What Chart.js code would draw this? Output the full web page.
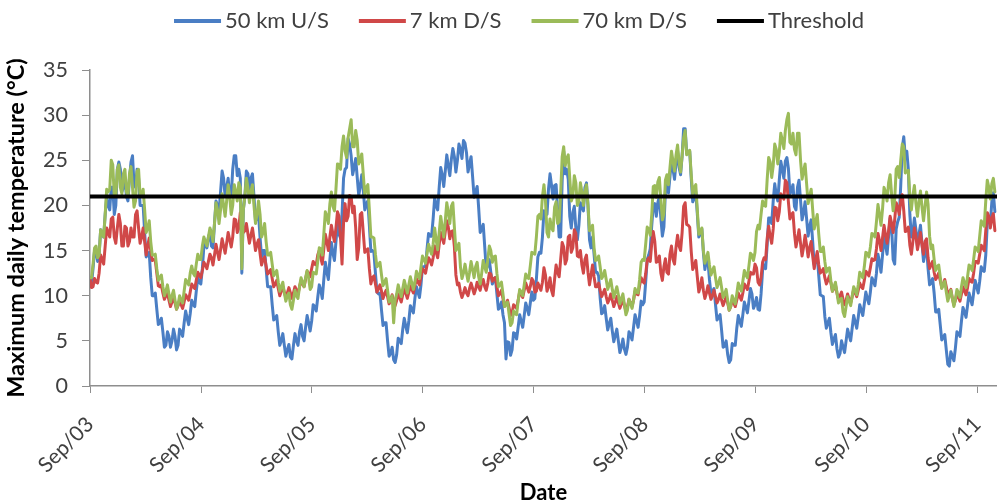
<!DOCTYPE html>
<html>
<head>
<meta charset="utf-8">
<title>Maximum daily temperature</title>
<script src="https://cdn.jsdelivr.net/npm/chart.js@4.4.1/dist/chart.umd.min.js"></script>
<style>
  html, body { margin: 0; padding: 0; background: #ffffff; }
  #wrap { width: 997px; height: 504px; position: relative; }
</style>
</head>
<body>
<div id="wrap"><canvas id="chart" width="997" height="504"></canvas></div>
<script>
// Daily-maximum water temperature at three sites, sampled every 5 days from 1 Sep 2003.
const seriesStart = '2003-09-01';
const stepDays = 5;
const axisEnd = '2011-11-05';

const seriesLabels = ['50 km U/S', '7 km D/S', '70 km D/S', 'Threshold'];

// 50 km upstream
const upstream50 = [
  11.5, 11.3, 13, 15, 15, 13.8, 14.5, 17.3, 17, 16.5, 19, 21, 20, 19.5, 22, 22, 19, 20, 24, 24.8,
  24, 21.5, 22, 23, 21, 20.5, 23, 24.8, 25.5, 22.3, 22, 24, 23, 20, 20, 20, 17, 14.3, 14.5, 14.8,
  12, 10, 10, 10.3, 8.5, 6.8, 7, 7.5, 6, 4.3, 4.5, 6, 5.5, 4.3, 5, 6.3, 5.5, 4, 4.5, 6.3,
  6, 5.5, 7, 8.3, 7.5, 6.8, 8, 9.5, 9, 8.8, 10.5, 12, 11.5, 11.3, 13, 15.5, 16, 15.3, 16.5, 17,
  15.5, 15.3, 18, 20.5, 20, 19.3, 21.5, 23.8, 23, 21, 22, 23, 21, 21, 24, 25.5, 25.5, 23.3, 24, 23,
  12.5, 19.5, 21, 23.8, 23.5, 21.8, 23, 23.5, 21, 18.3, 18.5, 19, 16.5, 14.3, 15, 15, 13, 11, 11, 11,
  9, 7.3, 7.5, 7.8, 6, 4.5, 5, 5.8, 4.5, 3.3, 4, 4.6, 3.2, 3, 4.5, 5.8, 5, 4.5, 6, 6.8,
  5.5, 5, 6.5, 7.8, 7, 6.1,
  7.2, 9, 8.8, 8.3, 9.8, 11.2, 10.6, 9.7, 11.8, 13.7, 12.6, 11.8, 14, 15.9, 14.7, 13.9, 16, 17.9, 16.8, 16.4,
  19, 23, 24, 24.2, 27.4, 26.8, 25.5, 23.4, 24.2, 25.2, 23.1, 21.1, 22.1, 23.4, 21.7, 19.5, 20.2, 20.5, 17.8, 14.9,
  15, 14.8, 12.5, 10.4, 10.2, 10.3, 8.4, 6.7, 7, 7, 5, 3.3, 3.6, 4.3, 2.9, 2.6, 3.5, 5.3, 5, 4.7,
  6.3, 7.5, 6.6, 5.9, 7.2, 8.9, 8.5, 8.1, 9.7, 11, 10.4, 9.8, 11.2, 13.2, 13.2, 13.2, 15.2, 16.9, 16.6, 16.6,
  18.5, 20.8, 20, 19.5, 22, 24.2, 23.4, 22.1, 23.8, 25.6, 24.4, 23.3, 25.1, 26.3, 25.4, 23.7, 25, 26.8, 26.2, 25.2,
  27.2, 26.9, 25.8, 23.7, 24.6, 25.4, 23.2, 20.9, 21.5, 22.1, 19.7, 17, 17.4, 17.9, 15.4, 12.9, 13.4, 14, 12.6, 11.3,
  11.9, 12, 10.2, 8.5, 8.7, 9.3, 7.9, 7, 3, 4.9, 4.8, 3.4, 4, 5.9, 5.8, 5.2, 6.5, 7.9, 7.2, 6.5,
  7.8, 9.2, 8.6, 7.9, 9.2, 10.4,
  9.5, 9.7, 11.8, 14.3, 14.8, 14.7, 16.5, 19.4, 19.2, 19, 21.8, 23.5, 22.2, 20.7, 22.2, 22.3, 19.4, 16.5, 16.5, 22.8,
  26, 23.5, 24, 22.9, 18.8, 17.5, 19.2, 19.9, 17.5, 16.2, 17.8, 20.3, 19.8, 19.4, 22, 22.5, 20, 16.2, 15.3, 16.5,
  14.6, 12.6, 12.6, 12.2, 9.8, 8, 8.2, 8.9, 7.5, 6.2, 6.9, 7.5, 6.1, 4.9, 5.6, 6.3, 5, 3.7, 4.3, 5.2,
  4.1, 3.5, 4.3, 6, 5.7, 5.1, 6.5, 7.9, 7.2, 6.5, 7.8, 9.4, 9, 9.3, 11.5, 14, 14.5, 15.2, 17.8, 20,
  20.2, 18.8, 20.3, 21, 18.6, 16.6, 17.6, 21.6, 22.5, 21.4, 23.2, 25.1, 24, 22.9, 24.8, 26, 24.2, 23.4, 25.5, 28.5,
  28.5, 25.8, 26, 26, 23, 20.4, 20.8, 21.5, 19.1, 16.5, 16.9, 17.4, 14.8, 12.9, 14, 13.9, 11.8, 10.2, 10.5, 10.8,
  9, 7.3, 7.6, 7.9, 6.2, 4.3, 4.4, 5, 3.5, 2.6, 2.9, 4.7, 4.5, 4.5, 6.4, 7.8, 7.2, 6.6, 7.9, 9.3,
  8.7, 8.1, 9.4, 10.8, 10.2, 8.6, 9, 9.8,
  8.5, 8.4, 10.2, 12.8, 13.4, 13, 15.6, 18.6, 18.6, 18, 20.5, 22.4, 21.2, 20.5, 22.8, 24.9, 24, 23, 24.9, 25.3,
  24.1, 21.3, 21.6, 22.3, 19.9, 19.5, 22, 22.8, 20.6, 18.4, 19.2, 20.4, 18.5, 16.6, 17.7, 18.4, 16, 13.4, 13.8, 14.5,
  12.2, 10.1, 10, 9.9, 7.7, 6.4, 7, 7.5, 5.9, 4.6, 5.2, 5.7, 4.1, 3.2, 3.6, 5, 4.3, 3.7, 5, 6.3,
  5.6, 5, 6.4, 7.8, 7.1, 6.4, 7.6, 9, 8.4, 7.8, 9.1, 10.4, 9.7, 9.1, 10.4, 12, 11.6, 11.1, 12.5, 14.6,
  13.7, 12.6, 14.5, 16.6, 15.6, 14.6, 16.6, 18.6, 17.5, 14, 13.5, 17.4, 18.2, 18.7, 22.2, 26.4, 27.6, 25.3, 26, 24,
  19, 16.5, 17, 18.6, 17.3, 15.5, 16.8, 17.8, 15.8, 13.8, 14.8, 15.4, 13, 11.2, 11.4, 11.9, 10.3, 8.2, 8.2, 8.5,
  6.8, 5.1, 5.4, 5.7, 4, 2.4, 2.2, 3.8, 3.3, 2.8, 4.2, 6, 5.8, 5.5, 7.2, 8.7, 8.2, 7.6, 8.9, 10.3,
  9.6, 9, 10.3, 11.7, 11, 10.3, 11.6, 13.2, 12.8, 12.7, 14.5, 18, 18.6, 18, 20.4, 21.4, 19.3
];

// 7 km downstream
const downstream7 = [
  12, 10.9, 11, 11.9, 11.5, 11.4, 12.5, 14.5, 14, 13.5, 15.5, 17.5, 17, 16.5, 18.5, 18.7, 16.5, 15.8, 17.5, 19,
  18, 15.5, 15.5, 17.7, 17.5, 15.5, 16, 17.5, 16.5, 16.5, 19, 19.4, 17.5, 15.8, 16.5, 17.5, 16, 14.5, 15.5, 16.4,
  15, 13.9, 14, 13.9, 12.5, 11.1, 11, 11.2, 10.3, 9.6, 10, 10.3, 9.5, 8.8, 9.3, 9.9, 9.2, 8.5, 8.9, 9.5,
  9, 8.6, 9.3, 10.1, 9.8, 9.5, 10.4, 11.3, 11, 10.8, 11.7, 12.6, 12.3, 12, 12.8, 13.7, 13.4, 13, 13.8, 14.6,
  14.2, 13.4, 14.5, 15.7, 14.8, 14, 15.1, 16.3, 15.5, 14.7, 15.8, 17, 16.2, 15.4, 16.5, 18.5, 18.4, 17, 17.5, 19.2,
  18.8, 17, 17.2, 18, 16.9, 15.8, 16.7, 17.5, 16.3, 15, 15.7, 16.2, 14.7, 13.4, 14, 14.3, 13.3, 12.4, 12.6, 12.9,
  11.9, 11, 11.3, 11.7, 10.8, 10, 10.5, 11, 10.4, 9.8, 10.3, 10.9, 10.3, 9.7, 10.3, 11, 10.6, 10.2, 11, 11.7,
  11.3, 11, 11.8, 12.7, 12.5, 12.1,
  13, 13.8, 13.5, 13.4, 14.5, 15, 14.2, 13.5, 15.2, 16.8, 16, 15, 16.5, 17.8, 16.8, 16, 17.5, 19.3, 18.8, 16.5,
  13.5, 18, 20.2, 18.3, 18.8, 21.1, 21, 19.2, 19.9, 17.5, 14, 15.3, 19, 19.2, 17, 14.8, 15, 15.2, 13, 11.3,
  12, 12.2, 11.3, 10.4, 10.8, 11.2, 10.5, 9.7, 10.2, 10.6, 9.9, 9.1, 9.5, 10.1, 9.5, 8.9, 9.5, 10.2, 9.8, 9.3,
  10.1, 10.8, 10.3, 9.7, 10.4, 11.1, 10.7, 10.3, 11.1, 11.9, 11.5, 11.2, 12.1, 13, 12.8, 12.5, 13.4, 14.2, 13.9, 13.4,
  14.2, 15.5, 14.8, 14.2, 15.7, 17, 16.4, 15.8, 17.1, 18.3, 17.6, 16.3, 17.1, 17.2, 15.4, 12.3, 11.2, 11.4, 10.4, 9.8,
  10.3, 10.9, 10.3, 10, 10.8, 11.4, 10.8, 10.2, 10.7, 11.5, 11, 10.6, 11.4, 11.8, 11, 10.6, 11.4, 12.5, 12.4, 11.6,
  11.9, 12, 11, 10, 10.2, 10.6, 9.7, 8.8, 9.1, 9.5, 8.7, 7.8, 8.1, 9, 8.8, 8.6, 9.5, 10.4, 10.2, 9.8,
  10.6, 11.4, 10.9, 10.4, 11, 11.9,
  11.6, 10.4, 10.5, 11.4, 11, 10.6, 11.5, 13.1, 12.3, 10.5, 11, 12, 10.6, 10, 11.8, 13.4, 12.6, 12.1, 14, 15.9,
  15.4, 13.5, 14, 16.5, 16.7, 14.8, 15.3, 17.3, 16.9, 14.4, 14.3, 15, 13.4, 12.5, 14, 14.5, 12.6, 11.2, 12.3, 13.4,
  12.1, 11, 11, 11.4, 10.6, 9.9, 10.3, 10.7, 9.9, 9.2, 9.6, 10.2, 9.5, 8.8, 9.3, 9.9, 9.2, 8.6, 9.1, 9.6,
  8.9, 8.3, 8.8, 9.6, 9.2, 8.8, 9.5, 10.5, 10.2, 10.1, 11.1, 12, 11.6, 11.4, 12.4, 13.9, 14.2, 13.8, 15.8, 17.1,
  16, 13.7, 13.8, 14.4, 12.5, 11.7, 13.2, 14.1, 12.6, 12.4, 14.6, 15.5, 14, 13.5, 15.4, 16.7, 15.5, 15, 17, 19.9,
  20.3, 17.9, 17.8, 17.6, 14.9, 12.9, 13.3, 13.9, 12.1, 10.4, 11, 12, 10.6, 9.7, 10.3, 11.1, 10.3, 9.6, 10, 10.6,
  9.9, 9.2, 9.6, 10.2, 9.5, 8.9, 9.4, 9.9, 9.2, 8.4, 8.8, 9.6, 9.2, 8.8, 9.5, 10.3, 9.9, 9.5, 10.3, 11.3,
  11, 10.7, 11.6, 12.6, 12.4, 12.4, 13.5, 13.1,
  11.5, 11.2, 12, 13.7, 14.2, 14, 16.3, 17.7, 16.6, 15.8, 17.4, 19.8, 19.7, 18.3, 19.3, 21.3, 21, 20.7, 22.8, 22.5,
  20.4, 18.5, 19, 19.2, 16.9, 15.4, 16.3, 17.3, 15.8, 14.4, 15.4, 16.7, 15.6, 14.3, 15.3, 16, 14.4, 13, 14, 14.9,
  13.4, 12.5, 12.7, 13, 12, 11.3, 11.7, 12.2, 11.4, 10.5, 10.8, 11.2, 10.3, 9.6, 10, 10.4, 9.6, 9, 9.5, 10.2,
  9.6, 9.2, 9.9, 10.7, 10.3, 9.9, 10.6, 11.4, 11, 10.8, 11.7, 12.7, 12.5, 12.2, 13.1, 14.1, 13.9, 14, 15.2, 16.9,
  16.1, 15, 16.4, 17.8, 16.7, 15.8, 17.2, 18.8, 18, 17, 18.4, 20.3, 19.8, 19, 20.5, 21.2, 19.4, 17.1, 17.2, 17.6,
  15.6, 14.6, 16, 17.5, 16.6, 15.1, 16, 17, 15.6, 14.6, 16, 16.3, 14.2, 13, 13.4, 13.8, 12.6, 11.8, 12.1, 12.5,
  11.7, 10.9, 11.3, 11.8, 11, 10.1, 10.4, 10.7, 9.7, 9, 9.5, 10.3, 9.8, 9.4, 10.2, 11, 10.5, 10.1, 10.9, 11.9,
  11.6, 11.5, 12.5, 13.8, 13.8, 13.6, 14.6, 15.6, 15.3, 15, 17.2, 19.2, 18.8, 17.5, 18.6, 19.1, 17.2
];

// 70 km downstream
const downstream70 = [
  12, 12, 13.5, 15.3, 15.5, 14.2, 14.5, 17.3, 17, 16.5, 19, 21.8, 21.5, 21.8, 25, 24.5, 21, 21, 24, 24.5,
  22, 21.3, 23.5, 24, 21.5, 21, 23.5, 24.3, 22, 19.8, 20.5, 23.8, 24, 21, 21, 21.8, 19.5, 17, 17.5, 18.3,
  16, 14.5, 14.5, 14.6, 13, 11.7, 12, 12.3, 11, 10, 10.5, 11.2, 10.2, 9.3, 10, 10.6, 9.5, 8.5, 9, 10,
  9.5, 9.2, 10.5, 11.8, 11.5, 11.2, 12.5, 13.3, 12.5, 12.2, 13.5, 14.6, 14, 14, 15.5, 16.5, 16, 15.5, 16.5, 17.5,
  17, 16, 18, 20.3, 19.5, 18, 19.5, 21.3, 20, 18.8, 20.5, 22.3, 21, 19, 20, 22.3, 21.5, 20.5, 22.5, 22,
  13, 19.5, 21, 23, 22, 20.3, 21.5, 22.3, 20, 18, 19, 20.5, 19, 16.5, 17, 18, 16, 14.5, 14.5, 14.8,
  13.5, 12.2, 12.5, 12.8, 11.5, 10.5, 11, 11.5, 10.3, 9.4, 10, 10.3, 9, 8.5, 9.5, 10.6, 10, 9.7, 11, 12,
  11.5, 11, 12, 12.8, 12, 10.7,
  11, 12.6, 12.5, 12.4, 13.8, 15.3, 15.2, 14.5, 16.8, 19.3, 18.8, 18, 20.2, 21.5, 19.9, 19.4, 21.8, 24.6, 24.5, 24,
  26.5, 27.7, 26, 25.3, 27.5, 28.5, 29.5, 26.5, 26.5, 28.3, 27.2, 24.6, 25, 25.7, 23.4, 21.2, 22, 22.3, 19.5, 16.5,
  16.5, 16.4, 14.6, 13.2, 13.4, 13.7, 12.3, 11.1, 11.5, 11.9, 10.6, 9.3, 9.5, 10, 7, 9.5, 10.2, 11.2, 10.5, 9.9,
  10.8, 11.7, 11, 10.3, 11.2, 12.1, 11.4, 10.7, 11.5, 12.7, 12.2, 11.9, 13.2, 14.4, 14, 13.6, 14.7, 15.7, 15.1, 14.6,
  15.7, 17.5, 16.2, 15.1, 17, 18.8, 17.6, 16.5, 18.3, 20.3, 19.2, 18, 19.9, 20.3, 17.6, 15, 15.3, 15.8, 13.2, 11.9,
  12.5, 13.5, 12.5, 11.6, 12.6, 13.8, 12.9, 12, 13.2, 13.7, 12.1, 11.3, 12.5, 13.9, 13.2, 12.6, 14, 15.5, 15, 13.7,
  14.3, 14.4, 12.5, 11, 11.2, 11.5, 10.2, 8.8, 9, 9.3, 8, 6.7, 7, 8.3, 8, 7.9, 9.4, 10.7, 10.4, 10,
  11.2, 12.4, 12, 11.9, 13.3, 14.8,
  14.7, 14.6, 16.5, 18.8, 19, 18.5, 21, 22.3, 20.5, 17, 16.5, 18.5, 17.5, 17.2, 19.8, 20.4, 18, 18.2, 21.3, 25.4,
  26.5, 24.4, 25.2, 25.6, 23, 20.5, 21, 23.3, 22.5, 20, 20.5, 22.5, 21.5, 20, 21.5, 22.3, 20, 17.2, 17.3, 17.8,
  15.3, 13.9, 14, 14.4, 13.2, 11.9, 12.2, 12.8, 11.8, 10.7, 11.2, 11.8, 10.7, 9.8, 10.4, 11, 10.1, 9.1, 9.7, 10.2,
  9, 7.9, 8.4, 9.6, 9.2, 8.6, 9.5, 10.8, 10.4, 10.3, 11.8, 13.7, 14, 13.9, 15.7, 17.6, 17.4, 16.7, 19, 22.1,
  22.2, 20.9, 22.6, 23.1, 20.6, 18.4, 19.1, 22.8, 23.4, 22.3, 24.2, 26, 24.9, 23.8, 25.6, 26.7, 24.8, 23.7, 25.5, 27.5,
  28.3, 25.6, 25.8, 26.1, 23.4, 21.2, 22, 22.3, 19.5, 16.8, 17, 17.5, 15, 13.6, 14.2, 14.8, 13.4, 12.3, 12.8, 13.2,
  12, 10.9, 11.4, 12, 10.9, 9.8, 10.2, 10.7, 9.5, 8.4, 8.8, 10, 9.5, 9.1, 10.2, 11.4, 10.9, 10.5, 11.6, 12.8,
  12.3, 12, 13.3, 14.7, 14.5, 13.9, 14.8, 17.1,
  17.8, 17.4, 19, 20.5, 20, 19.9, 22.8, 25.3, 24.8, 23.1, 24.4, 26.8, 26.2, 24.6, 25.9, 28, 27.2, 26.3, 28.3, 29.5,
  30.2, 27, 26.8, 28, 26.2, 25.6, 28, 28, 25, 22.9, 23.8, 24.6, 22.4, 20.2, 21, 21.8, 19.5, 17.4, 18.2, 19,
  16.8, 14.9, 14.9, 15.4, 13.8, 12.6, 13, 13.1, 11.6, 10.5, 11, 11.5, 10.3, 9.2, 9.6, 9.7, 8.2, 7.7, 8.8, 9.9,
  9.4, 8.9, 9.9, 11, 10.6, 10.1, 11.2, 12.6, 12.3, 12, 13.2, 14.8, 14.7, 14.3, 15.4, 16.9, 16.8, 16.5, 18.2, 20.1,
  19, 17.8, 19.6, 22, 21.5, 20.5, 22.5, 23.4, 21.2, 19.4, 20.6, 24, 24.3, 23.1, 25, 26.8, 26.5, 23.6, 23.8, 23.9,
  21, 19.5, 21.1, 22.2, 20.2, 18.8, 20.4, 21.6, 19.8, 18.3, 19.9, 21.5, 20.1, 16.6, 15.2, 15.6, 14, 12.8, 13.2, 13.4,
  12.1, 10.8, 11.2, 11.6, 10.4, 9.4, 10, 10.6, 9.7, 8.8, 9.6, 10.7, 10.3, 9.8, 11, 12, 11.4, 10.9, 12.1, 13.4,
  13.2, 12.8, 14, 15.4, 15.2, 14.9, 16.6, 18.3, 18, 17.7, 20.5, 22.8, 22, 20.7, 22.4, 23, 21.5
];

const thresholdValue = 21;

const tickDates = ['2003-09-01', '2004-09-01', '2005-09-01', '2006-09-01', '2007-09-01',
                   '2008-09-01', '2009-09-01', '2010-09-01', '2011-09-01'];
const tickLabels = ['Sep/03', 'Sep/04', 'Sep/05', 'Sep/06', 'Sep/07',
                    'Sep/08', 'Sep/09', 'Sep/10', 'Sep/11'];

const yTicks = { min: 0, max: 35, step: 5 };

// ---- helpers ----
const DAY_MS = 86400000;
const startMs = Date.parse(seriesStart + 'T00:00:00Z');
const dayOf = s => Math.round((Date.parse(s + 'T00:00:00Z') - startMs) / DAY_MS);
const tickDays = tickDates.map(dayOf);
const endDay = dayOf(axisEnd);
const toPoints = values => values.map((v, i) => ({ x: i * stepDays, y: v }));

const FONT = 'Lato, "Open Sans", sans-serif';
const TEXT = '#404040';
const AXIS = '#8e8e8e';

// legend drawn as line samples followed by the series names, centred above the plot
const lineLegend = {
  id: 'lineLegend',
  afterDraw(chart, args, opts) {
    const ctx = chart.ctx;
    const sets = chart.data.datasets;
    ctx.save();
    ctx.font = opts.fontSize + 'px ' + FONT;
    const widths = sets.map(d => opts.sample + opts.gap + ctx.measureText(d.label).width);
    const total = widths.reduce((a, b) => a + b, 0) + opts.spacing * (sets.length - 1);
    let x = opts.centerX - total / 2;
    sets.forEach((d, i) => {
      ctx.strokeStyle = d.borderColor;
      ctx.lineWidth = opts.lineWidth;
      ctx.lineCap = 'butt';
      ctx.beginPath();
      ctx.moveTo(x, opts.y);
      ctx.lineTo(x + opts.sample, opts.y);
      ctx.stroke();
      ctx.fillStyle = TEXT;
      ctx.textBaseline = 'middle';
      ctx.textAlign = 'left';
      ctx.fillText(d.label, x + opts.sample + opts.gap, opts.y);
      x += widths[i] + opts.spacing;
    });
    ctx.restore();
  }
};

const lineStyle = (color, order) => ({
  borderColor: color,
  backgroundColor: color,
  borderWidth: 3,
  pointRadius: 0,
  pointHoverRadius: 0,
  tension: 0,
  borderJoinStyle: 'round',
  borderCapStyle: 'round',
  fill: false,
  order
});

new Chart(document.getElementById('chart'), {
  type: 'line',
  data: {
    datasets: [
      { label: seriesLabels[0], data: toPoints(upstream50), ...lineStyle('#4a7ec4', 3) },
      { label: seriesLabels[1], data: toPoints(downstream7), ...lineStyle('#d04848', 2) },
      { label: seriesLabels[2], data: toPoints(downstream70), ...lineStyle('#9bbb59', 1) },
      {
        label: seriesLabels[3],
        data: [{ x: 0, y: thresholdValue }, { x: endDay, y: thresholdValue }],
        ...lineStyle('#000000', 0),
        borderWidth: 4,
        borderCapStyle: 'butt'
      }
    ]
  },
  options: {
    responsive: false,
    animation: false,
    devicePixelRatio: 1,
    events: [],
    layout: { padding: { top: 70, right: 0, bottom: 0, left: 0 } },
    plugins: {
      legend: { display: false },
      tooltip: { enabled: false },
      lineLegend: { centerX: 519, y: 21, fontSize: 22, sample: 47, gap: 4, spacing: 30, lineWidth: 4 }
    },
    scales: {
      x: {
        type: 'linear',
        min: 0,
        max: endDay,
        afterBuildTicks: s => { s.ticks = tickDays.map(v => ({ value: v })); },
        afterFit: s => { s.height = 118; s.paddingLeft = 0; s.paddingRight = 0; },
        ticks: {
          autoSkip: false,
          maxRotation: 45,
          minRotation: 45,
          padding: 19,
          color: TEXT,
          font: { family: FONT, size: 21 },
          callback: (value, index) => tickLabels[index]
        },
        grid: { display: true, drawOnChartArea: false, drawTicks: true, tickLength: 7, color: AXIS, lineWidth: 1 },
        border: { display: true, color: AXIS, width: 1.5 },
        title: {
          display: true,
          text: 'Date',
          color: '#000000',
          font: { family: FONT, size: 22, weight: 'bold', lineHeight: 1 },
          padding: { top: 0, bottom: 0 }
        }
      },
      y: {
        type: 'linear',
        min: yTicks.min,
        max: yTicks.max,
        afterFit: s => { s.width = 90; },
        ticks: {
          stepSize: yTicks.step,
          padding: 14,
          color: TEXT,
          font: { family: FONT, size: 21.5 }
        },
        grid: { display: true, drawOnChartArea: false, drawTicks: true, tickLength: 8, color: AXIS, lineWidth: 1 },
        border: { display: true, color: AXIS, width: 1.5 },
        title: {
          display: true,
          text: 'Maximum daily temperature (°C)',
          color: '#000000',
          font: { family: FONT, size: 23.5, weight: 'bold', lineHeight: 1 },
          padding: { top: 5, bottom: 0 }
        }
      }
    }
  },
  plugins: [lineLegend]
});
</script>
</body>
</html>
